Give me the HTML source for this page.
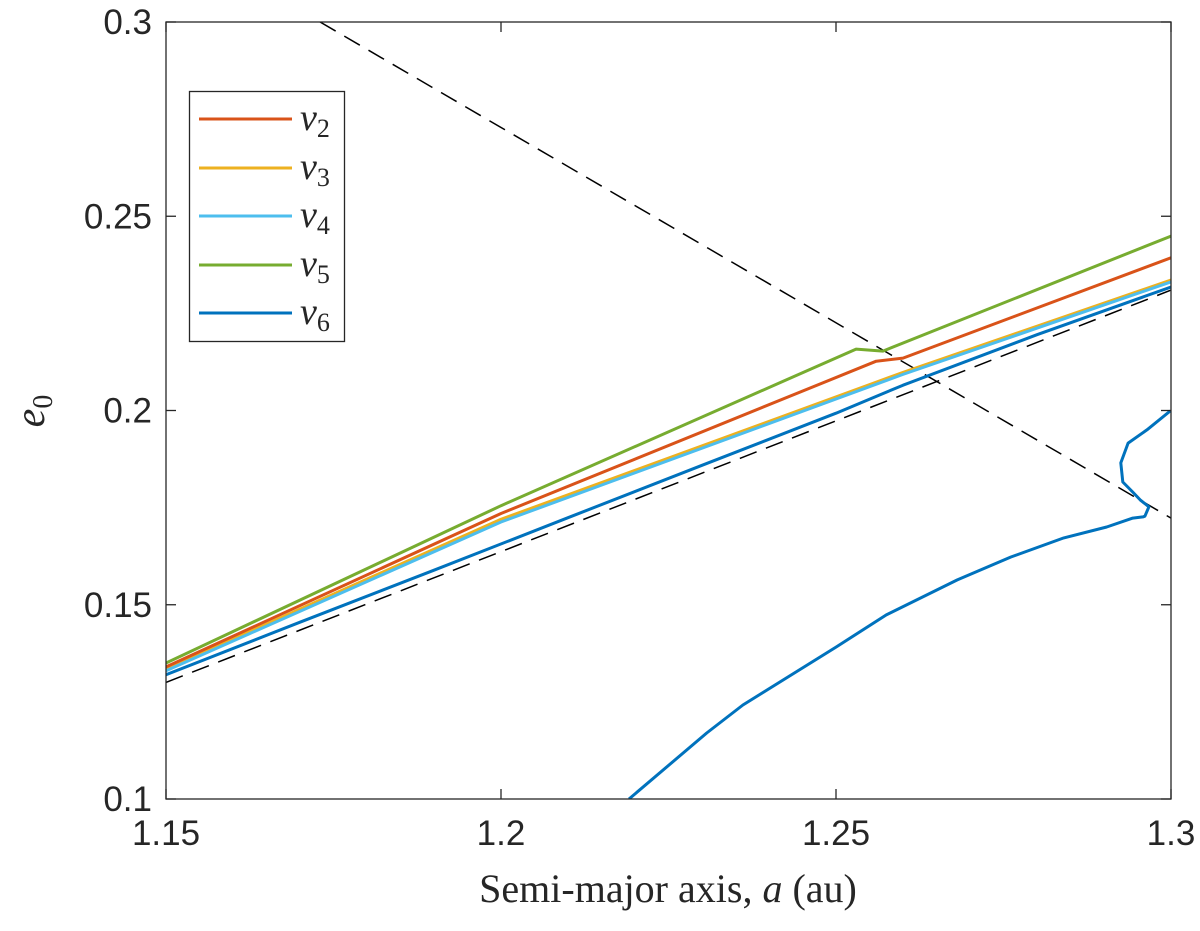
<!DOCTYPE html>
<html><head><meta charset="utf-8"><style>
body{margin:0;background:#fff;position:relative}
svg{display:block}
.tk{font-family:"Liberation Sans",sans-serif;font-size:35px;fill:#262626}
.sr{font-family:"Liberation Serif",serif;fill:#262626}
</style></head><body>
<svg id="c" width="1200" height="931"></svg>
<script>
const xTicks=[1.15,1.2,1.25,1.3];
const xTickLabels=["1.15","1.2","1.25","1.3"];
const yTicks=[0.1,0.15,0.2,0.25,0.3];
const yTickLabels=["0.1","0.15","0.2","0.25","0.3"];
const dash1A=[1.15,1.30], dash1E=[0.130,0.231];
const dash2A=[1.173,1.30], dash2E=[0.300,0.1723];
const nu5A=[1.15,1.20,1.253,1.257,1.3], nu5E=[0.135,0.1755,0.2158,0.2153,0.2449];
const nu2A=[1.15,1.20,1.256,1.26,1.3], nu2E=[0.134,0.1735,0.2127,0.2135,0.2393];
const nu3A=[1.15,1.20,1.26,1.3], nu3E=[0.1335,0.172,0.2098,0.2336];
const nu4A=[1.15,1.20,1.26,1.3], nu4E=[0.133,0.1713,0.2093,0.2331];
const nu6A=[1.15,1.17,1.19,1.21,1.23,1.25,1.26,1.28,1.3], nu6E=[0.132,0.1455,0.1589,0.1724,0.1859,0.1993,0.2065,0.2195,0.2318];
const nu6bA=[1.2191,1.2307,1.2361,1.25,1.2575,1.2681,1.2761,1.284,1.2904,1.2943,1.2958,1.2961,1.2967,1.2954,1.2943,1.2928,1.2925,1.2936,1.2964,1.2999];
const nu6bE=[0.1,0.117,0.1242,0.1391,0.1474,0.1564,0.1623,0.1672,0.17,0.1723,0.1726,0.1728,0.1752,0.177,0.179,0.1816,0.1865,0.1916,0.195,0.1999];
const L=166,R=1171,T=22,B=799;
const X=a=>L+(a-1.15)/0.15*(R-L);
const Y=e=>T+(0.3-e)/0.2*(B-T);
const svg=document.getElementById('c');
const NS='http://www.w3.org/2000/svg';
function mk(t,at,p){const el=document.createElementNS(NS,t);for(const k in at)el.setAttribute(k,at[k]);(p||svg).appendChild(el);return el;}
const clip=mk('clipPath',{id:'cp'});mk('rect',{x:L,y:T,width:R-L,height:B-T},clip);
const g=mk('g',{'clip-path':'url(#cp)'});
function cl(A,E,col,w,name,da){
 const pts=A.map((a,i)=>X(a).toFixed(1)+','+Y(E[i]).toFixed(1)).join(' ');
 const el=mk('polyline',{points:pts,fill:'none',stroke:col,'stroke-width':w,'stroke-linejoin':'round'},g);
 if(da)el.setAttribute('stroke-dasharray',da);
 
 
}
cl(dash1A,dash1E,'#000',1.5,'dashed-line-lower','18,10');
cl(dash2A,dash2E,'#000',1.5,'dashed-line-descending','18,10');
cl(nu6A,nu6E,'#0072bd',3,'nu6-line');
cl(nu3A,nu3E,'#edb120',3,'nu3-line');
cl(nu4A,nu4E,'#4dbeee',3,'nu4-line');
cl(nu2A,nu2E,'#d95319',3,'nu2-line');
cl(nu5A,nu5E,'#77ac30',3,'nu5-line');
cl(nu6bA,nu6bE,'#0072bd',3,'nu6-branch');
const fr=mk('rect',{x:L,y:T,width:R-L,height:B-T,fill:'none',stroke:'#262626','stroke-width':1.3});

xTicks.forEach((v,i)=>{
 mk('line',{x1:X(v),x2:X(v),y1:B,y2:B-10,stroke:'#262626','stroke-width':1.3});
 mk('line',{x1:X(v),x2:X(v),y1:T,y2:T+10,stroke:'#262626','stroke-width':1.3});
 const t=mk('text',{x:X(v),y:B+46,'text-anchor':'middle',class:'tk'});t.textContent=xTickLabels[i];
 
});
yTicks.forEach((v,i)=>{
 mk('line',{x1:L,x2:L+10,y1:Y(v),y2:Y(v),stroke:'#262626','stroke-width':1.3});
 mk('line',{x1:R,x2:R-10,y1:Y(v),y2:Y(v),stroke:'#262626','stroke-width':1.3});
 const t=mk('text',{x:L-14,y:Y(v)+12,'text-anchor':'end',class:'tk'});t.textContent=yTickLabels[i];
 
});
</script>
<svg style="position:absolute;left:0;top:0" width="1200" height="931">
<text x="668" y="902" text-anchor="middle" class="sr" font-size="40">Semi-major axis, <tspan font-style="italic">a</tspan> (au)</text>
<text transform="translate(44,411) rotate(-90)" text-anchor="middle" class="sr" font-size="42"><tspan font-style="italic">e</tspan><tspan font-size="28" dy="8">0</tspan></text>
<g>
<rect x="189.5" y="91.5" width="155" height="250" fill="#fff" stroke="#262626" stroke-width="1.3"/>
<g class="sr" font-size="38" font-style="italic">
<line x1="199" x2="292" y1="119" y2="119" stroke="#d95319" stroke-width="3"/><text x="300" y="130">ν<tspan font-style="normal" font-size="26" dy="7">2</tspan></text>
<line x1="199" x2="292" y1="168" y2="168" stroke="#edb120" stroke-width="3"/><text x="300" y="179">ν<tspan font-style="normal" font-size="26" dy="7">3</tspan></text>
<line x1="199" x2="292" y1="216" y2="216" stroke="#4dbeee" stroke-width="3"/><text x="300" y="227">ν<tspan font-style="normal" font-size="26" dy="7">4</tspan></text>
<line x1="199" x2="292" y1="265" y2="265" stroke="#77ac30" stroke-width="3"/><text x="300" y="276">ν<tspan font-style="normal" font-size="26" dy="7">5</tspan></text>
<line x1="199" x2="292" y1="313" y2="313" stroke="#0072bd" stroke-width="3"/><text x="300" y="324">ν<tspan font-style="normal" font-size="26" dy="7">6</tspan></text>
</g></g>
</svg>
</body></html>
